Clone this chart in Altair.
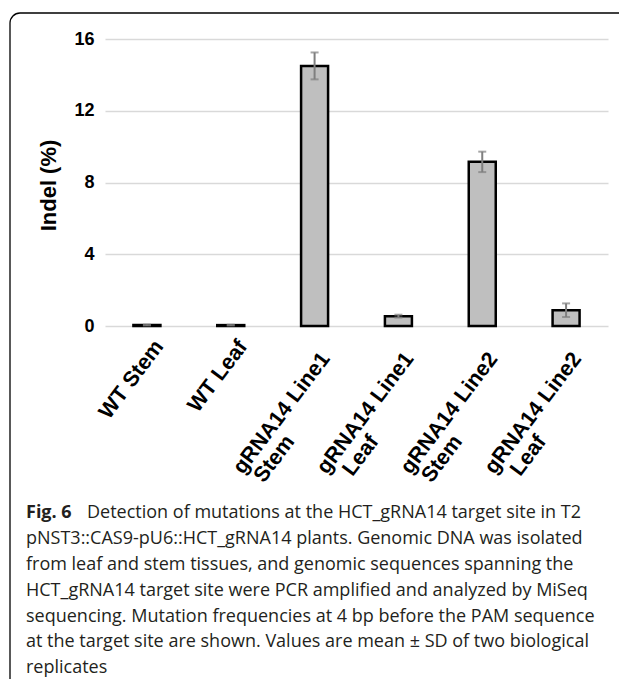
import altair as alt
import pandas as pd

# ---- data ----
categories = ["WT Stem", "WT Leaf", "gRNA14 Line1\nStem", "gRNA14 Line1\nLeaf",
              "gRNA14 Line2\nStem", "gRNA14 Line2\nLeaf"]
means = [0.05, 0.05, 14.5, 0.55, 9.15, 0.88]
sds = [0.02, 0.02, 0.75, 0.08, 0.57, 0.38]
y_ticks = [0, 4, 8, 12, 16]

caption_bold = "Fig. 6"
caption_first = "Detection of mutations at the HCT_gRNA14 target site in T2"
caption_rest = [
    "pNST3::CAS9-pU6::HCT_gRNA14 plants. Genomic DNA was isolated",
    "from leaf and stem tissues, and genomic sequences spanning the",
    "HCT_gRNA14 target site were PCR amplified and analyzed by MiSeq",
    "sequencing. Mutation frequencies at 4 bp before the PAM sequence",
    "at the target site are shown. Values are mean \u00b1 SD of two biological",
    "replicates",
]

df = pd.DataFrame({"cat": categories, "mean": means, "sd": sds})

W, H = 503, 287
FONT = "Liberation Sans"
CAP_FONT = "Open Sans"
LBL = 21.5

x_enc = alt.X(
    "cat:N", sort=categories, title=None,
    scale=alt.Scale(paddingInner=0, paddingOuter=0),
    axis=alt.Axis(labels=False, domain=False, ticks=False, grid=False),
)

y_enc_axis = alt.Axis(
    values=y_ticks, labelFont=FONT, labelFontSize=18, labelFontWeight="bold",
    labelColor="black", labelPadding=11, grid=True, gridColor="#d9d9d9", gridWidth=1.6,
    domain=False, ticks=False, title="Indel (%)", titleFont=FONT, titleFontSize=22,
    titleFontWeight="bold", titleColor="black", titleAngle=270, titleX=-50, titleY=146,
    titleAlign="center", titleBaseline="alphabetic",
)

base = alt.Chart(df).transform_calculate(
    lo="datum.mean - datum.sd", hi="datum.mean + datum.sd",
    l1="split(datum.cat, '\\n')[0]",
    l2="length(split(datum.cat, '\\n')) > 1 ? split(datum.cat, '\\n')[1] : ''",
)

xcat = alt.X("cat:N", sort=categories)

bars = base.mark_bar(size=27, fill="#bfbfbf", stroke="black", strokeWidth=2.5).encode(
    x=x_enc,
    y=alt.Y("mean:Q", scale=alt.Scale(domain=[0, 16], nice=False), axis=y_enc_axis),
)

err_rule = base.mark_rule(color="#7f7f7f", strokeWidth=2).encode(x=xcat, y="lo:Q", y2="hi:Q")
err_lo = base.mark_tick(color="#7f7f7f", size=8, thickness=2).encode(x=xcat, y="lo:Q")
err_hi = base.mark_tick(color="#7f7f7f", size=8, thickness=2).encode(x=xcat, y="hi:Q")

lbl_style = dict(font=FONT, fontSize=LBL, fontWeight="bold", color="black",
                 angle=307, baseline="top", align="right")

lbl_single = base.transform_filter("datum.l2 == ''").mark_text(**lbl_style).encode(
    x=alt.X("cat:N", sort=categories, bandPosition=0.546),
    y=alt.value(H + 10.5), text="l1:N")

lbl_multi1 = base.transform_filter("datum.l2 != ''").mark_text(**lbl_style).encode(
    x=alt.X("cat:N", sort=categories, bandPosition=0.530),
    y=alt.value(H + 22.6), text="l1:N")

lbl_multi2 = base.transform_filter("datum.l2 != ''").mark_text(**lbl_style).encode(
    x=alt.X("cat:N", sort=categories, bandPosition=0.109),
    y=alt.value(H + 105.6), text="l2:N")

one = alt.Data(values=[{"k": 1}])

card = alt.Chart(one).mark_rect(
    fill="transparent", stroke="black", strokeWidth=1.3, cornerRadiusTopLeft=10
).encode(
    x=alt.value(-95), x2=alt.value(W + 60), y=alt.value(-26), y2=alt.value(H + 400)
)

cap_b = alt.Chart(one).mark_text(
    text=caption_bold, font=CAP_FONT, fontSize=18, fontWeight="bold", align="left",
    baseline="alphabetic", color="#231f20"
).encode(x=alt.value(-79), y=alt.value(479))

cap_1 = alt.Chart(one).mark_text(
    text=caption_first, font=CAP_FONT, fontSize=18, align="left",
    baseline="alphabetic", color="#231f20"
).encode(x=alt.value(-18), y=alt.value(479))

cap_r = alt.Chart(one).mark_text(
    text=caption_rest, font=CAP_FONT, fontSize=18, align="left", lineHeight=25.9,
    baseline="alphabetic", color="#231f20"
).encode(x=alt.value(-79), y=alt.value(504.9))

chart = alt.layer(card, bars, err_rule, err_lo, err_hi, lbl_single, lbl_multi1, lbl_multi2,
                  cap_b, cap_1, cap_r).properties(
    width=W, height=H,
    autosize=alt.AutoSizeParams(type="none"),
    padding={"left": 97, "top": 31, "right": 11, "bottom": 353},
).configure_view(stroke=None)

chart.save("out.html", embed_options={"renderer": "svg", "actions": False})
